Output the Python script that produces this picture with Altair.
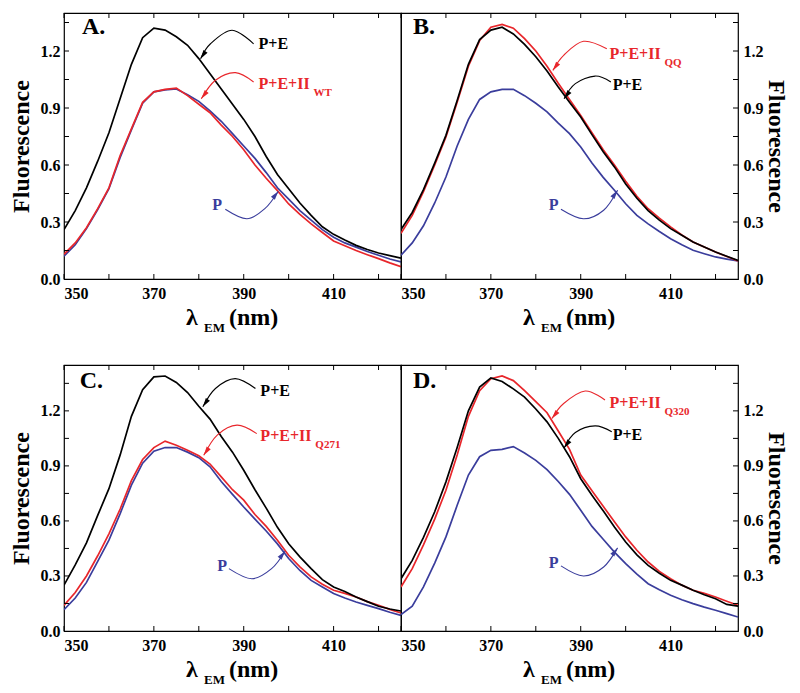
import math
import altair as alt
import pandas as pd

# ---------------- data ----------------
WL = [350, 352.5, 355, 357.5, 360, 362.5, 365, 367.5, 370, 372.5, 375, 377.5, 380,
      382.5, 385, 387.5, 390, 392.5, 395, 397.5, 400, 402.5, 405, 407.5, 410,
      412.5, 415, 417.5, 420, 422.5, 425]

A_PE = [0.26, 0.36, 0.48, 0.62, 0.77, 0.95, 1.13, 1.27, 1.32, 1.31, 1.275, 1.23, 1.16,
        1.08, 1.00, 0.92, 0.84, 0.75, 0.645, 0.55, 0.475, 0.40, 0.335, 0.275, 0.235,
        0.205, 0.177, 0.155, 0.137, 0.123, 0.11]
A_PE2 = [0.13, 0.19, 0.27, 0.37, 0.48, 0.65, 0.79, 0.93, 0.985, 0.998, 1.005, 0.965, 0.92,
         0.875, 0.81, 0.75, 0.68, 0.60, 0.53, 0.465, 0.395, 0.34, 0.29, 0.245, 0.20,
         0.175, 0.15, 0.128, 0.107, 0.085, 0.065]
A_P = [0.12, 0.18, 0.265, 0.365, 0.475, 0.64, 0.785, 0.925, 0.985, 0.995, 1.0, 0.97, 0.935,
       0.885, 0.83, 0.765, 0.70, 0.635, 0.56, 0.48, 0.42, 0.36, 0.31, 0.26, 0.22,
       0.19, 0.168, 0.145, 0.125, 0.105, 0.09]

B_PE = [0.26, 0.35, 0.47, 0.61, 0.756, 0.94, 1.13, 1.26, 1.31, 1.325, 1.29, 1.235, 1.17,
        1.095, 1.01, 0.93, 0.853, 0.76, 0.67, 0.59, 0.50, 0.425, 0.36, 0.31, 0.265,
        0.23, 0.195, 0.168, 0.142, 0.12, 0.098]
B_PE2 = [0.24, 0.335, 0.46, 0.60, 0.747, 0.93, 1.12, 1.255, 1.325, 1.34, 1.32, 1.265, 1.20,
         1.12, 1.03, 0.945, 0.86, 0.77, 0.68, 0.60, 0.515, 0.435, 0.37, 0.32, 0.274,
         0.232, 0.195, 0.168, 0.142, 0.118, 0.095]
B_P = [0.125, 0.19, 0.28, 0.40, 0.537, 0.70, 0.84, 0.945, 0.985, 0.998, 0.998, 0.965, 0.925,
       0.88, 0.82, 0.765, 0.695, 0.61, 0.535, 0.467, 0.396, 0.335, 0.29, 0.25, 0.212,
       0.18, 0.151, 0.133, 0.116, 0.105, 0.095]

C_PE = [0.25, 0.36, 0.48, 0.63, 0.776, 0.96, 1.17, 1.315, 1.385, 1.39, 1.355, 1.30, 1.225,
        1.155, 1.06, 0.975, 0.876, 0.77, 0.67, 0.565, 0.476, 0.404, 0.34, 0.28, 0.24,
        0.215, 0.185, 0.16, 0.135, 0.12, 0.109]
C_PE2 = [0.14, 0.21, 0.30, 0.41, 0.53, 0.665, 0.82, 0.935, 1.0, 1.035, 1.013, 0.985, 0.955,
         0.91, 0.84, 0.77, 0.713, 0.635, 0.57, 0.495, 0.413, 0.35, 0.295, 0.255, 0.222,
         0.205, 0.185, 0.16, 0.14, 0.118, 0.098]
C_P = [0.116, 0.18, 0.265, 0.38, 0.495, 0.64, 0.795, 0.915, 0.98, 1.0, 1.0, 0.975, 0.945,
       0.895, 0.815, 0.745, 0.676, 0.61, 0.545, 0.475, 0.395, 0.33, 0.276, 0.24, 0.204,
       0.18, 0.158, 0.14, 0.122, 0.102, 0.085]

D_PE = [0.285, 0.385, 0.51, 0.65, 0.813, 1.0, 1.2, 1.33, 1.38, 1.36, 1.32, 1.275, 1.21,
        1.14, 1.05, 0.95, 0.83, 0.74, 0.655, 0.567, 0.485, 0.415, 0.358, 0.315, 0.276,
        0.25, 0.222, 0.198, 0.176, 0.145, 0.135]
D_PE2 = [0.24, 0.34, 0.47, 0.61, 0.767, 0.96, 1.17, 1.31, 1.375, 1.39, 1.365, 1.31, 1.25,
         1.19, 1.09, 0.99, 0.85, 0.765, 0.68, 0.595, 0.513, 0.44, 0.376, 0.325, 0.285,
         0.25, 0.222, 0.205, 0.185, 0.162, 0.14]
D_P = [0.09, 0.135, 0.24, 0.37, 0.513, 0.685, 0.85, 0.95, 0.985, 0.99, 1.005, 0.97, 0.93,
       0.88, 0.815, 0.745, 0.658, 0.57, 0.50, 0.43, 0.367, 0.31, 0.258, 0.225, 0.195,
       0.17, 0.149, 0.13, 0.113, 0.095, 0.076]

X_LABELS = [350, 370, 390, 410]
X_TICKS = [350, 360, 370, 380, 390, 400, 410, 420]
Y_LABELS = [0.0, 0.3, 0.6, 0.9, 1.2]
Y_TICKS = [0.15, 0.3, 0.45, 0.6, 0.75, 0.9, 1.05, 1.2, 1.35]
YMAX = {"A": 1.4, "B": 1.4, "C": 1.45, "D": 1.45}

SUBS = {"A": "WT", "B": "QQ", "C": "Q271", "D": "Q320"}

# label anchors (nm, value at baseline)
LETTER = {"A": (354.0, 1.288), "B": (352.65, 1.288), "C": (353.5, 1.322), "D": (352.65, 1.322)}
LBL_PE = {"A": (393.3, 1.212), "B": (397.1, 0.993), "C": (393.7, 1.282), "D": (397.1, 1.040)}
LBL_PE2 = {"A": (393.3, 0.998), "B": (396.4, 1.160), "C": (393.7, 1.035), "D": (396.4, 1.217)}
LBL_P = {"A": (383.0, 0.365), "B": (382.9, 0.361), "C": (384.1, 0.326), "D": (382.9, 0.345)}

# curved arrows: (nm list, value list), last point = arrow tip
ARC_PE = {
    "A": ([392.2, 387.4, 382.6, 380.4], [1.238, 1.309, 1.238, 1.159]),
    "B": ([396.7, 393.2, 388.8, 386.3], [1.037, 1.068, 1.028, 0.949]),
    "C": ([392.6, 388.1, 383.7, 380.9], [1.322, 1.376, 1.322, 1.222]),
    "D": ([396.9, 393.2, 388.8, 386.3], [1.086, 1.118, 1.082, 0.998]),
}
ARC_PE2 = {
    "A": ([392.2, 388.15, 383.7, 380.55], [1.037, 1.086, 1.046, 0.949]),
    "B": ([395.8, 390.6, 386.2, 383.8], [1.212, 1.251, 1.177, 1.098]),
    "C": ([392.9, 388.5, 384.1, 381.1], [1.076, 1.122, 1.068, 0.958]),
    "D": ([395.4, 391.0, 386.2, 383.6], [1.259, 1.308, 1.240, 1.158]),
}
ARC_P = {
    "A": ([385.9, 390.7, 394.7, 397.7], [0.367, 0.317, 0.370, 0.462]),
    "B": ([385.6, 390.6, 395.1, 398.2], [0.367, 0.317, 0.362, 0.467]),
    "C": ([386.7, 391.8, 396.2, 399.2], [0.340, 0.285, 0.340, 0.435]),
    "D": ([385.6, 390.6, 395.1, 398.2], [0.355, 0.300, 0.349, 0.453]),
}

SERIES = {"A": (A_PE, A_PE2, A_P), "B": (B_PE, B_PE2, B_P),
          "C": (C_PE, C_PE2, C_P), "D": (D_PE, D_PE2, D_P)}

# ---------------- style ----------------
W, H = 337, 266
RED = "#e8262b"
BLUE = "#3a3d9c"
BLACK = "#000000"
FONT = "'Liberation Serif', 'Times New Roman', Times, serif"
ARROW = "M0,0L0.55,2L-0.55,2Z"


def tip_angle(xs, ys, ymax):
    sx = W / 75.0
    sy = H / ymax
    dx = (xs[-1] - xs[-2]) * sx
    dy = -(ys[-1] - ys[-2]) * sy
    return math.degrees(math.atan2(dx, -dy)) % 360


def panel(key, side):
    ymax = YMAX[key]
    xsc = alt.Scale(domain=[350, 425], nice=False, zero=False)
    ysc = alt.Scale(domain=[0, ymax], nice=False, zero=False)
    pe, pe2, p = SERIES[key]
    df = pd.DataFrame({"wl": WL, "pe": pe, "pe2": pe2, "p": p})

    xax = alt.Axis(values=X_LABELS, title=None, ticks=False, domain=False, grid=False,
                   labelPadding=6, format="d")
    if side == "left":
        yax = alt.Axis(orient="left", values=Y_LABELS, format=".1f", title="Fluorescence",
                       ticks=False, domain=False, grid=False, labelPadding=4, titlePadding=7)
    else:
        yax = alt.Axis(orient="right", values=Y_LABELS, format=".1f", title="Fluorescence",
                       ticks=False, domain=False, grid=False, labelPadding=5, titlePadding=0)

    def X(f):
        return alt.X(f, scale=xsc, axis=xax)

    def Y(f):
        return alt.Y(f, scale=ysc, axis=yax)

    layers = []
    for col, color in [("p", BLUE), ("pe2", RED), ("pe", BLACK)]:
        layers.append(
            alt.Chart(df).mark_line(color=color, strokeWidth=1.7, clip=True).encode(
                x=X("wl:Q"), y=Y(f"{col}:Q"),
            )
        )

    # inward ticks
    xt = pd.DataFrame({"t": X_TICKS})
    yt = pd.DataFrame({"t": Y_TICKS})
    layers.append(alt.Chart(xt).mark_rule(color="black", strokeWidth=1).encode(
        x=X("t:Q"), y=alt.value(H), y2=alt.value(H - 5)))
    layers.append(alt.Chart(xt).mark_rule(color="black", strokeWidth=1).encode(
        x=X("t:Q"), y=alt.value(0), y2=alt.value(5)))
    x0, x1 = (0, 5) if side == "left" else (W, W - 5)
    layers.append(alt.Chart(yt).mark_rule(color="black", strokeWidth=1).encode(
        y=Y("t:Q"), x=alt.value(x0), x2=alt.value(x1)))

    # arrows
    rows, tips = [], []
    for name, arcs, color in [("pe", ARC_PE, BLACK), ("pe2", ARC_PE2, RED), ("p", ARC_P, BLUE)]:
        ax, ay = arcs[key]
        for i, (a, b) in enumerate(zip(ax, ay)):
            rows.append({"ax": a, "ay": b, "o": i, "arc": name, "col": color})
        tips.append({"ax": ax[-1], "ay": ay[-1], "ang": tip_angle(ax, ay, ymax), "col": color})
    arc_df = pd.DataFrame(rows)
    tip_df = pd.DataFrame(tips)
    layers.append(alt.Chart(arc_df).mark_line(strokeWidth=1.1, interpolate="cardinal").encode(
        x=X("ax:Q"), y=Y("ay:Q"),
        detail="arc:N", order="o:Q", color=alt.Color("col:N", scale=None)))
    layers.append(alt.Chart(tip_df).mark_point(shape=ARROW, filled=True, size=80, opacity=1,
                                               strokeWidth=0).encode(
        x=X("ax:Q"), y=Y("ay:Q"),
        angle=alt.Angle("ang:Q", scale=None), color=alt.Color("col:N", scale=None)))

    # labels
    lab = pd.DataFrame({
        "lx": [LBL_PE[key][0], LBL_PE2[key][0], LBL_P[key][0]],
        "ly": [LBL_PE[key][1], LBL_PE2[key][1], LBL_P[key][1]],
        "txt": ["P+E", "P+E+II", "P"],
        "col": [BLACK, RED, BLUE],
    })
    layers.append(alt.Chart(lab).mark_text(align="left", baseline="alphabetic", font=FONT,
                                           fontSize=16, fontWeight="bold").encode(
        x=X("lx:Q"), y=Y("ly:Q"),
        text="txt:N", color=alt.Color("col:N", scale=None)))
    sub = pd.DataFrame({"lx": [LBL_PE2[key][0]], "ly": [LBL_PE2[key][1]], "txt": [SUBS[key]]})
    layers.append(alt.Chart(sub).mark_text(align="left", baseline="alphabetic", font=FONT,
                                           fontSize=11, fontWeight="bold", dx=55, dy=7,
                                           color=RED).encode(
        x=X("lx:Q"), y=Y("ly:Q"), text="txt:N"))
    let = pd.DataFrame({"lx": [LETTER[key][0]], "ly": [LETTER[key][1]], "txt": [key + "."]})
    layers.append(alt.Chart(let).mark_text(align="left", baseline="alphabetic", font=FONT,
                                           fontSize=24, fontWeight="bold", color="black").encode(
        x=X("lx:Q"), y=Y("ly:Q"), text="txt:N"))

    # x axis title  λ_EM (nm)
    for txt, px, py, fs in [("λ", 122, H + 46, 24), ("EM", 140, H + 53, 13), ("(nm)", 165, H + 46, 24)]:
        layers.append(alt.Chart(pd.DataFrame({"t": [txt]})).mark_text(
            align="left", baseline="alphabetic", font=FONT, fontSize=fs, fontWeight="bold",
            color="black").encode(x=alt.value(px), y=alt.value(py), text="t:N"))

    return alt.layer(*layers).properties(width=W, height=H)


chart = alt.concat(
    panel("A", "left"), panel("B", "right"), panel("C", "left"), panel("D", "right"),
    columns=2, spacing={"row": 86, "column": 0}, bounds="flush",
).properties(
    padding={"left": 0, "top": 3, "right": 0, "bottom": 3},
    background="white",
).configure_view(stroke="black", strokeWidth=1.2).configure_axis(
    labelFont=FONT, labelFontSize=16, labelFontWeight="bold", labelColor="black",
    titleFont=FONT, titleFontSize=24, titleFontWeight="bold", titleColor="black",
)

chart.save("out.html", embed_options={"renderer": "svg", "actions": False})
